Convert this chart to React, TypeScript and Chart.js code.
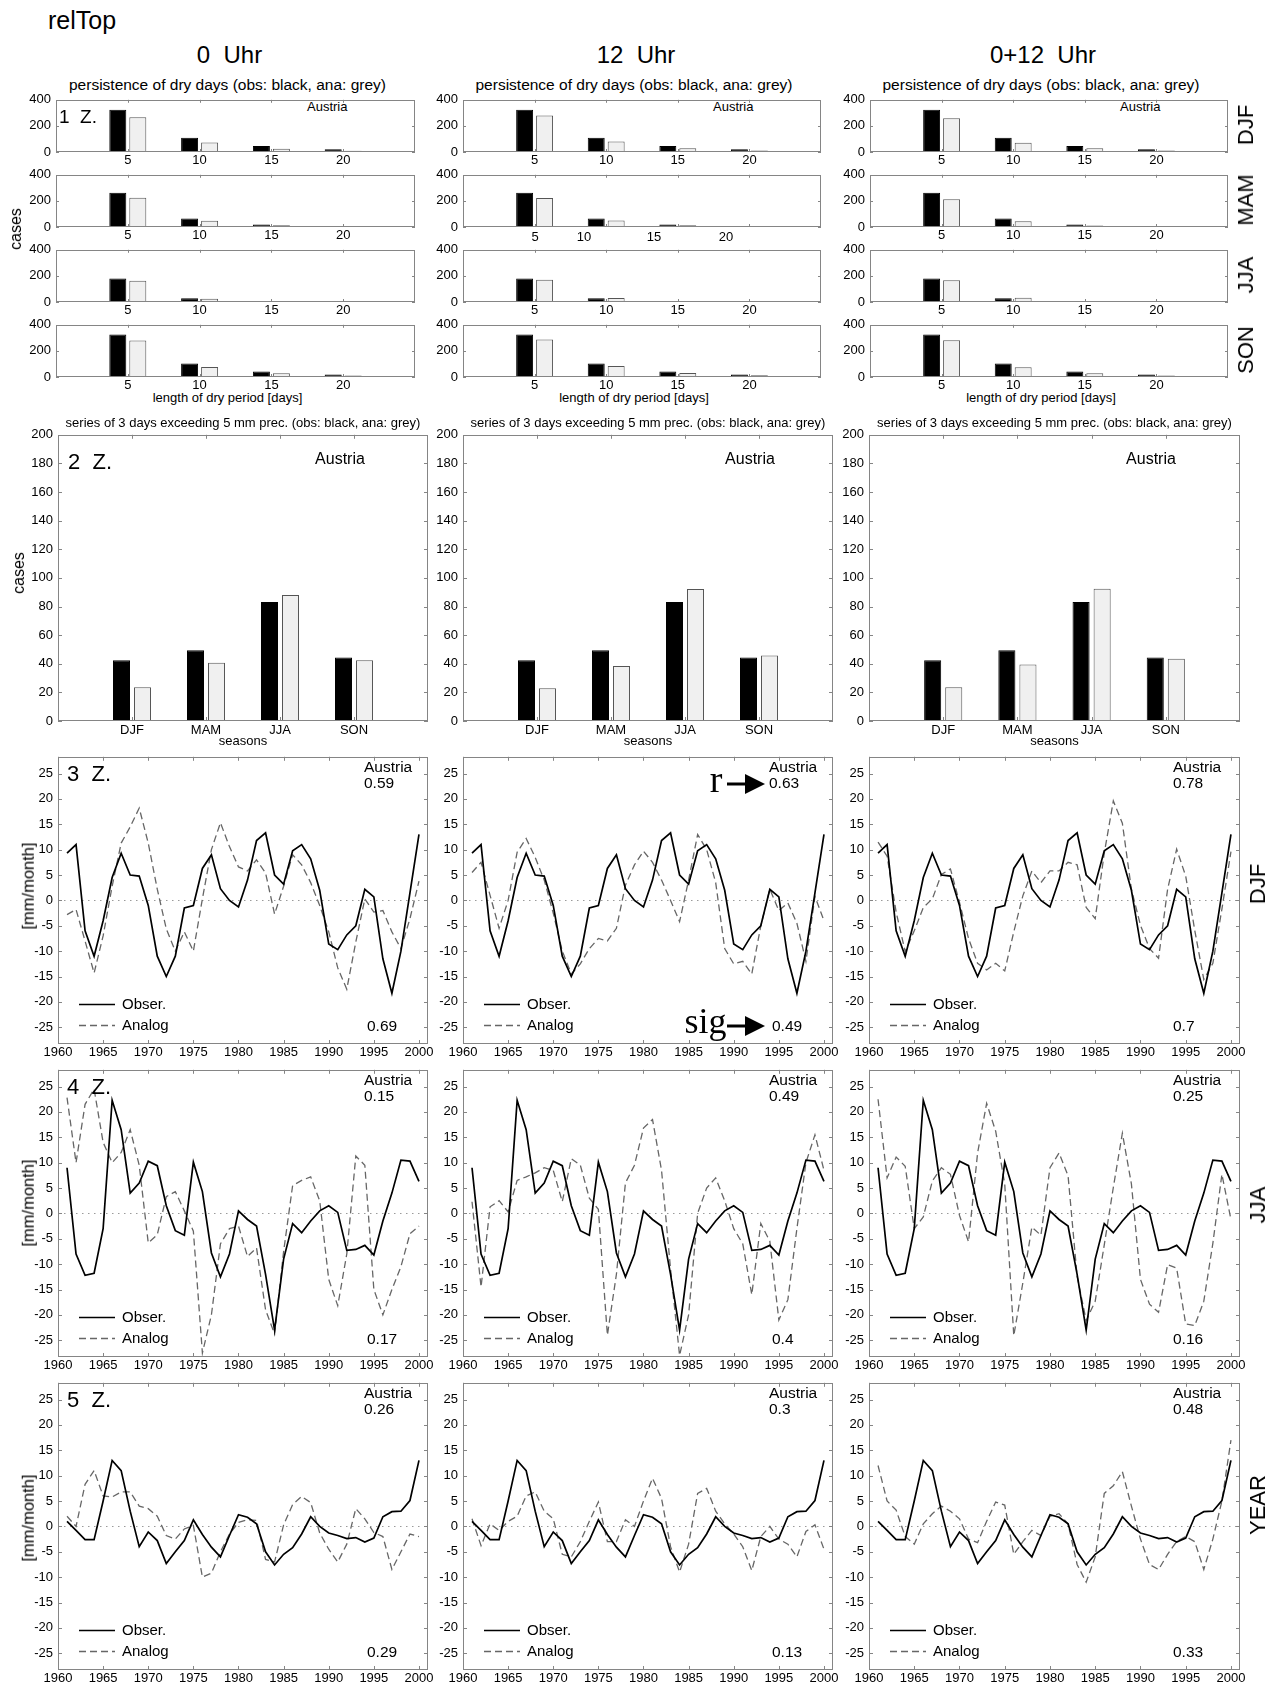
import React, { useEffect, useRef } from 'react';
import { Chart, registerables } from 'chart.js';

Chart.register(...registerables);

const FONT = "'Liberation Sans', Arial, Helvetica, sans-serif";

// ---------- Row 1: persistence of dry days ----------
const DRY_LENGTHS = [5, 10, 15, 20];
const DRY_X_TICKS = [5, 10, 15, 20];
const DRY_Y_TICKS = [0, 200, 400];
const DRY_SEASONS = ['DJF', 'MAM', 'JJA', 'SON'];
const DRY_OBS_DJF = [324, 110, 46, 22];
const DRY_OBS_MAM = [263, 66, 20, 7];
const DRY_OBS_JJA = [181, 29, 6, 2];
const DRY_OBS_SON = [325, 104, 42, 20];
const DRY_ANA_0_DJF = [266, 72, 24, 10];
const DRY_ANA_0_MAM = [224, 48, 14, 6];
const DRY_ANA_0_JJA = [162, 24, 6, 3];
const DRY_ANA_0_SON = [279, 76, 29, 12];
const DRY_ANA_12_DJF = [280, 80, 28, 12];
const DRY_ANA_12_MAM = [222, 50, 14, 5];
const DRY_ANA_12_JJA = [170, 30, 4, 2];
const DRY_ANA_12_SON = [288, 85, 30, 13];
const DRY_ANA_012_DJF = [258, 70, 28, 12];
const DRY_ANA_012_MAM = [212, 45, 12, 5];
const DRY_ANA_012_JJA = [167, 33, 4, 2];
const DRY_ANA_012_SON = [282, 75, 28, 12];
// tick labels of the 12 Uhr MAM panel, which are drawn displaced in the original
const DRY_SHIFTED_LABELS = ['5', '10', '15', '20'];

// ---------- Row 2: series of 3 days exceeding 5 mm ----------
const SEASONS = ['DJF', 'MAM', 'JJA', 'SON'];
const SEASON_POS = [1, 2, 3, 4];
const WET_Y_TICKS = [0, 20, 40, 60, 80, 100, 120, 140, 160, 180, 200];
const WET_OBS = [42.5, 49.5, 83.2, 44.3];
const WET_ANA_0 = [23.5, 40.7, 88, 42.5];
const WET_ANA_12 = [22.9, 38.4, 92.3, 45.7];
const WET_ANA_012 = [23.5, 39.5, 92.5, 43.5];

// ---------- Rows 3-5: anomaly time series ----------
const YEARS = [
  1961, 1962, 1963, 1964, 1965, 1966, 1967, 1968, 1969, 1970,
  1971, 1972, 1973, 1974, 1975, 1976, 1977, 1978, 1979, 1980,
  1981, 1982, 1983, 1984, 1985, 1986, 1987, 1988, 1989, 1990,
  1991, 1992, 1993, 1994, 1995, 1996, 1997, 1998, 1999, 2000,
];
const YEAR_TICKS = [1960, 1965, 1970, 1975, 1980, 1985, 1990, 1995, 2000];
const ANOM_TICKS = [-25, -20, -15, -10, -5, 0, 5, 10, 15, 20, 25];

const OBS_DJF = [9.3, 11, -6, -11, -4, 4.5, 9.3, 5, 4.8, -1, -11, -15, -11, -1.5, -1, 6.3, 9, 2.3, 0, -1.3,
  4, 11.8, 13.3, 5, 3.2, 9.8, 11, 8.2, 2, -8.6, -9.7, -6.8, -5, 2.2, 0.7, -11.5, -18.3, -10, 1.5, 13];
const ANA_DJF_0 = [-2.8, -1.8, -8, -14.3, -7, 2.8, 11.3, 14.5, 18.2, 11.3, 2.2, -5.6, -10, -6.2, -10, 0.3, 10, 15.3, 10.6, 6.6,
  5.8, 8, 5.4, -2.7, 2.8, 9, 7, 3.5, -1, -6.2, -13.3, -17.5, -8.2, 0.3, -2.3, -2, -6.2, -9.5, -3.6, 3.8];
const ANA_DJF_12 = [5.5, 7.5, 1, -5.5, 0, 9.5, 12.2, 8.5, 4, -2.5, -10, -14.5, -12.5, -9.5, -7.5, -8, -5.5, 3, 7, 9.7,
  7.5, 4, 0, -4.2, 4, 13, 10, 3.5, -9.5, -12.5, -12, -14.5, -5, 2.2, -2, -0.5, -4.5, -12, 0.8, -4];
const ANA_DJF_012 = [11.5, 8.7, -2.3, -10.1, -6, -1.4, 0.3, 5.1, 6.2, -0.4, -7.5, -12.4, -13.7, -12.4, -13.9, -6.2, 0.9, 5.8, 3.5, 5.8,
  5.8, 7.5, 7, -1.4, -3.6, 9.3, 19.6, 15.2, 2.2, -4.9, -9.5, -11.4, 2.2, 10.1, 4.8, -5.9, -15.6, -12.4, -1.7, 9.6];

const OBS_JJA = [9, -8, -12.2, -11.8, -3, 22.3, 16.5, 4, 6, 10.3, 9.4, 1.5, -3.4, -4.3, 10.1, 4.3, -7.8, -12.5, -8, 0.5,
  -1.2, -2.5, -12, -23, -9, -2, -3.8, -1.5, 0.5, 1.5, 0.2, -7.3, -7.1, -6.3, -8.2, -1.5, 4, 10.5, 10.3, 6.3];
const ANA_JJA_0 = [22.8, 10, 21.5, 24.5, 14, 10, 12, 16.5, 9.5, -5.8, -4.2, 3.3, 4.3, 0.5, -3.5, -27.5, -20, -6, -3, -2.5,
  -8.5, -6.8, -19, -23.8, -7.5, 5.5, 6.5, 7.2, 2.5, -13, -18.2, -8, 11.3, 9.5, -15, -20, -15, -10.5, -4, -2.5];
const ANA_JJA_12 = [2.3, -14.5, 1.3, 2.5, 0.3, 6.5, 7.2, 8, 9, 8.5, 2.3, 10.8, 9.5, 3, 0.8, -24, -12, 6, 9.5, 16.8,
  18.5, 8.5, -11, -28, -20, 0, 5, 7, 2.5, -3, -6, -16, -2, -5.5, -21, -17, -3, 10, 15.5, 8.5];
const ANA_JJA_012 = [22.5, 7, 11.1, 9.3, -3, -0.7, 6.4, 9, 7.7, -0.4, -5.6, 11.9, 21.7, 16.2, 5.8, -24.1, -13.7, -2.7, -4.3, 9,
  11.9, 7.4, -12.4, -21.1, -17.3, -6.2, 5.1, 15.8, 5.8, -13, -17.9, -19.5, -10.1, -10.8, -21.8, -22.1, -17.3, -5.9, 7.7, -1.2];

const OBS_YEAR = [1, -0.8, -2.6, -2.6, 5, 13, 11, 3, -4, -1.1, -2.8, -7.3, -5, -2.8, 1.3, -1.6, -4.1, -6, -1.8, 2.3,
  1.8, 0.5, -5, -7.6, -5.5, -4.2, -1.5, 1.9, 0, -1.3, -1.8, -2.4, -2.2, -3.1, -2.3, 1.9, 2.9, 3, 5.1, 13];
const ANA_YEAR_0 = [2, 0, 8.3, 11, 6, 5.8, 6.8, 6.8, 4, 3.5, 2, -1.8, -2.5, -0.5, 0.2, -10, -9.2, -5, -1.5, 0.8,
  1.3, 1.2, -6.5, -7, 0.3, 4.3, 5.9, 4.7, -1.3, -4.5, -7, -3.5, 3.5, 1.5, -1.2, -2, -8.5, -5, -1.5, -2];
const ANA_YEAR_12 = [1.5, -3.8, 0.5, -0.8, 1, 2, 6, 6.8, 3, 1.5, -5.5, -6, -3, 1, 4.8, -3, -3, 1.3, 0, 5,
  9.5, 5.5, -4, -9, -3.5, 6.5, 7.5, 3, 0.5, -1.5, -4, -8.7, -2, 0, -2.5, -3.5, -6, -1, 0.3, -4.5];
const ANA_YEAR_012 = [12, 5, 3.2, -2, -3.5, 0.5, 2.5, 4, 3, 1.5, -2.5, -3.2, 1, 4.8, 4.2, -5.5, -3, -0.8, -1.8, 2,
  2.5, 0.5, -7.5, -11, -6, 6.5, 8, 10.8, 4, -2.5, -7.5, -8.5, -5.5, -3, -2, -3, -8.5, -2.5, 5, 17];

const R_DJF = ['0.59', '0.63', '0.78'];
const SIG_DJF = ['0.69', '0.49', '0.7'];
const R_JJA = ['0.15', '0.49', '0.25'];
const SIG_JJA = ['0.17', '0.4', '0.16'];
const R_YEAR = ['0.26', '0.3', '0.48'];
const SIG_YEAR = ['0.29', '0.13', '0.33'];

const COLUMN_TITLES = ['0  Uhr', '12  Uhr', '0+12  Uhr'];
const LEGEND_LABELS = ['Obser.', 'Analog'];

// ---------- layout (page pixels) ----------
const SMALL_COLS = [{ l: 56, r: 415 }, { l: 463, r: 821 }, { l: 870, r: 1228 }];
const WIDE_COLS = [{ l: 58, r: 428 }, { l: 463, r: 833 }, { l: 869, r: 1240 }];
const SMALL_TOPS = [96, 171, 246, 321];
const SMALL_H = 56;
const WET_TOP = 432;
const WET_H = 289;
const LINE_TOPS = [752, 1065, 1378];
const LINE_H = 292;
const SHIFTED_LABEL_X = [535, 584, 654, 726];

const TICK_FONT = { family: FONT, size: 13 };

const fixedTicks = (values: number[]) => (scale: any) => {
  scale.ticks = values.map((v) => ({ value: v }));
};

const matlabAxes = {
  id: 'matlabAxes',
  afterDatasetsDraw(chart: any, _args: any, opts: any) {
    const { ctx, chartArea: a } = chart;
    const xs = chart.scales.x;
    const ys = chart.scales.y;
    const tl = opts.tick ?? 4;
    ctx.save();
    ctx.strokeStyle = '#858585';
    ctx.lineWidth = 1;
    ctx.setLineDash([]);
    ctx.beginPath();
    for (const t of xs.ticks) {
      const p = Math.round(xs.getPixelForValue(t.value)) + 0.5;
      ctx.moveTo(p, a.bottom);
      ctx.lineTo(p, a.bottom - tl);
      ctx.moveTo(p, a.top);
      ctx.lineTo(p, a.top + tl);
    }
    for (const t of ys.ticks) {
      const p = Math.round(ys.getPixelForValue(t.value)) + 0.5;
      ctx.moveTo(a.left, p);
      ctx.lineTo(a.left + tl, p);
      ctx.moveTo(a.right, p);
      ctx.lineTo(a.right - tl, p);
    }
    ctx.stroke();
    ctx.strokeRect(Math.round(a.left) + 0.5, Math.round(a.top) + 0.5, Math.round(a.width) - 1, Math.round(a.height) - 1);
    ctx.restore();
  },
};

const anomDecor = {
  id: 'anomDecor',
  beforeDatasetsDraw(chart: any) {
    const { ctx, chartArea: a } = chart;
    const y = Math.round(chart.scales.y.getPixelForValue(0)) + 0.5;
    ctx.save();
    ctx.strokeStyle = '#9a9a9a';
    ctx.lineWidth = 1;
    ctx.setLineDash([1.5, 4.5]);
    ctx.beginPath();
    ctx.moveTo(a.left, y);
    ctx.lineTo(a.right, y);
    ctx.stroke();
    ctx.restore();
  },
  afterDatasetsDraw(chart: any) {
    const { ctx, chartArea: a } = chart;
    const rows = [40, 19];
    chart.data.datasets.forEach((ds: any, i: number) => {
      const y = Math.round(a.bottom - rows[i]) + 0.5;
      ctx.save();
      ctx.strokeStyle = ds.borderColor;
      ctx.lineWidth = ds.borderWidth;
      ctx.setLineDash(ds.borderDash || []);
      ctx.beginPath();
      ctx.moveTo(a.left + 21, y);
      ctx.lineTo(a.left + 57, y);
      ctx.stroke();
      ctx.restore();
    });
  },
};

type Pad = { l: number; t: number; r: number; b: number };

const baseOptions = (pad: Pad, tick: number) => ({
  animation: false,
  responsive: false,
  maintainAspectRatio: false,
  devicePixelRatio: 1,
  events: [],
  layout: { padding: { left: 0, top: pad.t, right: pad.r, bottom: 0 } },
  plugins: { legend: { display: false }, tooltip: { enabled: false }, matlabAxes: { tick } },
});

const axisX = (pad: Pad, min: number, max: number, ticks: number[], cb: (v: number) => string, padding: number, show = true) => ({
  type: 'linear',
  min,
  max,
  offset: false,
  grid: { display: false, drawTicks: false },
  border: { display: false },
  afterBuildTicks: fixedTicks(ticks),
  afterFit: (s: any) => { s.height = pad.b; },
  ticks: { display: show, font: TICK_FONT, color: '#000', padding, autoSkip: false, maxRotation: 0, callback: cb },
});

const axisY = (pad: Pad, min: number, max: number, ticks: number[]) => ({
  type: 'linear',
  min,
  max,
  grid: { display: false, drawTicks: false },
  border: { display: false },
  afterBuildTicks: fixedTicks(ticks),
  afterFit: (s: any) => { s.width = pad.l; },
  ticks: { font: TICK_FONT, color: '#000', padding: 5, autoSkip: false, callback: (v: number) => String(v) },
});

const makeDry = (obs: number[], ana: number[], showX = true) => (pad: Pad) => ({
  type: 'bar',
  data: {
    datasets: [
      { data: DRY_LENGTHS.map((x, i) => ({ x, y: obs[i] })), backgroundColor: '#000', borderColor: '#000', borderWidth: 1, categoryPercentage: 0.557, barPercentage: 0.85 },
      { data: DRY_LENGTHS.map((x, i) => ({ x, y: ana[i] })), backgroundColor: '#f0f0f0', borderColor: '#555', borderWidth: 1, categoryPercentage: 0.557, barPercentage: 0.85 },
    ],
  },
  options: {
    ...baseOptions(pad, 3),
    scales: {
      x: axisX(pad, 0, 25, DRY_X_TICKS, (v) => String(v), 1, showX),
      y: axisY(pad, 0, 400, DRY_Y_TICKS),
    },
  },
  plugins: [matlabAxes],
});

const makeWet = (obs: number[], ana: number[]) => (pad: Pad) => ({
  type: 'bar',
  data: {
    datasets: [
      { data: SEASON_POS.map((x, i) => ({ x, y: obs[i] })), backgroundColor: '#000', borderColor: '#000', borderWidth: 1, categoryPercentage: 0.568, barPercentage: 0.81 },
      { data: SEASON_POS.map((x, i) => ({ x, y: ana[i] })), backgroundColor: '#f0f0f0', borderColor: '#555', borderWidth: 1, categoryPercentage: 0.568, barPercentage: 0.81 },
    ],
  },
  options: {
    ...baseOptions(pad, 4),
    scales: {
      x: axisX(pad, 0, 5, SEASON_POS, (v) => SEASONS[SEASON_POS.indexOf(v)] ?? '', 2),
      y: axisY(pad, 0, 200, WET_Y_TICKS),
    },
  },
  plugins: [matlabAxes],
});

const makeLine = (obs: number[], ana: number[]) => (pad: Pad) => ({
  type: 'line',
  data: {
    datasets: [
      { label: LEGEND_LABELS[0], data: YEARS.map((x, i) => ({ x, y: obs[i] })), borderColor: '#000', borderWidth: 1.7, pointRadius: 0, tension: 0, fill: false },
      { label: LEGEND_LABELS[1], data: YEARS.map((x, i) => ({ x, y: ana[i] })), borderColor: '#666', borderWidth: 1.3, borderDash: [7, 4], pointRadius: 0, tension: 0, fill: false },
    ],
  },
  options: {
    ...baseOptions(pad, 4),
    scales: {
      x: axisX(pad, 1960, 2001, YEAR_TICKS, (v) => String(v), 1),
      y: axisY(pad, -28.3, 28.3, ANOM_TICKS),
    },
  },
  plugins: [anomDecor, matlabAxes],
});

function ChartBox({ l, t, w, h, pad, make }: { l: number; t: number; w: number; h: number; pad: Pad; make: (p: Pad) => any }) {
  const ref = useRef<HTMLCanvasElement>(null);
  const W = w + pad.l + pad.r;
  const H = h + pad.t + pad.b;
  useEffect(() => {
    const chart = new Chart(ref.current as HTMLCanvasElement, make(pad));
    return () => chart.destroy();
  }, []);
  return (
    <canvas
      ref={ref}
      width={W}
      height={H}
      style={{ position: 'absolute', left: l - pad.l, top: t - pad.t, width: W, height: H }}
    />
  );
}

function Txt({ x, y, size, children, align = 'left', rotate = false, family = FONT }: any) {
  const style: any = {
    position: 'absolute',
    left: x,
    top: y,
    fontFamily: family,
    fontSize: size,
    lineHeight: `${size}px`,
    whiteSpace: 'pre',
    color: '#000',
  };
  if (rotate) style.transform = 'translate(-50%, -50%) rotate(-90deg)';
  else if (align === 'center') style.transform = 'translate(-50%, -50%)';
  else style.transform = 'translateY(-50%)';
  return <div style={style}>{children}</div>;
}

function Arrow({ x, y, len }: { x: number; y: number; len: number }) {
  return (
    <svg width={len} height={22} style={{ position: 'absolute', left: x, top: y - 11 }}>
      <line x1={0} y1={11} x2={len - 18} y2={11} stroke="#000" strokeWidth={3} />
      <polygon points={`${len - 20},1 ${len},11 ${len - 20},21`} fill="#000" />
    </svg>
  );
}

const DRY_DATA = [
  [[DRY_OBS_DJF, DRY_ANA_0_DJF], [DRY_OBS_MAM, DRY_ANA_0_MAM], [DRY_OBS_JJA, DRY_ANA_0_JJA], [DRY_OBS_SON, DRY_ANA_0_SON]],
  [[DRY_OBS_DJF, DRY_ANA_12_DJF], [DRY_OBS_MAM, DRY_ANA_12_MAM], [DRY_OBS_JJA, DRY_ANA_12_JJA], [DRY_OBS_SON, DRY_ANA_12_SON]],
  [[DRY_OBS_DJF, DRY_ANA_012_DJF], [DRY_OBS_MAM, DRY_ANA_012_MAM], [DRY_OBS_JJA, DRY_ANA_012_JJA], [DRY_OBS_SON, DRY_ANA_012_SON]],
];
const WET_DATA = [WET_ANA_0, WET_ANA_12, WET_ANA_012];
const LINE_ROWS = [
  { obs: OBS_DJF, ana: [ANA_DJF_0, ANA_DJF_12, ANA_DJF_012], r: R_DJF, sig: SIG_DJF, name: 'DJF', z: '3  Z.', nameY: 884, ylabY: 886 },
  { obs: OBS_JJA, ana: [ANA_JJA_0, ANA_JJA_12, ANA_JJA_012], r: R_JJA, sig: SIG_JJA, name: 'JJA', z: '4  Z.', nameY: 1205, ylabY: 1203 },
  { obs: OBS_YEAR, ana: [ANA_YEAR_0, ANA_YEAR_12, ANA_YEAR_012], r: R_YEAR, sig: SIG_YEAR, name: 'YEAR', z: '5  Z.', nameY: 1505, ylabY: 1518 },
];

export default function App() {
  const smallPad = { l: 50, t: 9, r: 8, b: 18 };
  const wetPad = { l: 50, t: 10, r: 10, b: 20 };
  const linePad = { l: 50, t: 8, r: 14, b: 20 };
  const nodes: any[] = [];

  // header
  nodes.push(<Txt key="title" x={48} y={20} size={25}>relTop</Txt>);

  SMALL_COLS.forEach((c, ci) => {
    const center = (c.l + c.r) / 2;
    nodes.push(<Txt key={`ct${ci}`} x={center - 6} y={55} size={24} align="center">{COLUMN_TITLES[ci]}</Txt>);
    nodes.push(<Txt key={`st${ci}`} x={center - 8} y={85} size={15.5} align="center">persistence of dry days (obs: black, ana: grey)</Txt>);
    nodes.push(<Txt key={`xl${ci}`} x={center - 8} y={397} size={13} align="center">length of dry period [days]</Txt>);
    nodes.push(<Txt key={`au${ci}`} x={c.r - 108} y={106} size={13}>Austria</Txt>);
    SMALL_TOPS.forEach((t, ri) => {
      const shifted = ci === 1 && ri === 1;
      nodes.push(
        <ChartBox key={`dry${ci}${ri}`} l={c.l} t={t} w={c.r - c.l} h={SMALL_H} pad={smallPad}
          make={makeDry(DRY_DATA[ci][ri][0], DRY_DATA[ci][ri][1], !shifted)} />
      );
      if (shifted) {
        DRY_SHIFTED_LABELS.forEach((lab, k) => {
          nodes.push(<Txt key={`shl${k}`} x={SHIFTED_LABEL_X[k]} y={t + SMALL_H + 9} size={13} align="center">{lab}</Txt>);
        });
      }
      if (ci === 2) {
        nodes.push(<Txt key={`sn${ri}`} x={1246} y={t + SMALL_H / 2 + 1} size={22} rotate>{DRY_SEASONS[ri]}</Txt>);
      }
    });
  });
  nodes.push(<Txt key="z1" x={59} y={115.5} size={19}>{'1  Z.'}</Txt>);
  nodes.push(<Txt key="cases1" x={15.5} y={229} size={16} rotate>cases</Txt>);

  // row 2
  const wetAustriaX = [282, 287, 282];
  WIDE_COLS.forEach((c, ci) => {
    const center = (c.l + c.r) / 2;
    nodes.push(<Txt key={`wst${ci}`} x={center} y={421.5} size={13} align="center">series of 3 days exceeding 5 mm prec. (obs: black, ana: grey)</Txt>);
    nodes.push(
      <ChartBox key={`wet${ci}`} l={c.l} t={WET_TOP} w={c.r - c.l} h={WET_H} pad={wetPad}
        make={makeWet(WET_OBS, WET_DATA[ci])} />
    );
    nodes.push(<Txt key={`wau${ci}`} x={c.l + wetAustriaX[ci]} y={459} size={16} align="center">Austria</Txt>);
    nodes.push(<Txt key={`wxl${ci}`} x={center} y={740} size={13} align="center">seasons</Txt>);
  });
  nodes.push(<Txt key="z2" x={68} y={462} size={22}>{'2  Z.'}</Txt>);
  nodes.push(<Txt key="cases2" x={19} y={573} size={16} rotate>cases</Txt>);

  // rows 3-5
  LINE_ROWS.forEach((row, ri) => {
    const t = LINE_TOPS[ri];
    const b = t + LINE_H;
    WIDE_COLS.forEach((c, ci) => {
      nodes.push(
        <ChartBox key={`ln${ri}${ci}`} l={c.l} t={t} w={c.r - c.l} h={LINE_H} pad={linePad}
          make={makeLine(row.obs, row.ana[ci])} />
      );
      const ax = ci === 2 ? c.r - 67 : c.r - 64;
      const sx = ci === 2 ? c.r - 67 : c.r - 61;
      nodes.push(<Txt key={`la${ri}${ci}`} x={ax} y={t + 15} size={15.5}>Austria</Txt>);
      nodes.push(<Txt key={`lr${ri}${ci}`} x={ax} y={t + 31} size={15.5}>{row.r[ci]}</Txt>);
      nodes.push(<Txt key={`ls${ri}${ci}`} x={sx} y={b - 18} size={15.5}>{row.sig[ci]}</Txt>);
      nodes.push(<Txt key={`lg1${ri}${ci}`} x={c.l + 64} y={b - 41} size={15}>{LEGEND_LABELS[0]}</Txt>);
      nodes.push(<Txt key={`lg2${ri}${ci}`} x={c.l + 64} y={b - 20} size={15}>{LEGEND_LABELS[1]}</Txt>);
    });
    nodes.push(<Txt key={`lz${ri}`} x={67} y={t + 22} size={22}>{row.z}</Txt>);
    nodes.push(<Txt key={`ly${ri}`} x={27.5} y={row.ylabY} size={16.5} rotate>[mm/month]</Txt>);
    nodes.push(<Txt key={`lname${ri}`} x={1258} y={row.nameY} size={22} rotate>{row.name}</Txt>);
  });

  // explanatory annotations in the 12 Uhr DJF panel
  nodes.push(<Txt key="rlab" x={716} y={779} size={38} align="center" family="'Liberation Serif', 'Times New Roman', serif">r</Txt>);
  nodes.push(<Arrow key="rarr" x={727} y={784} len={38} />);
  nodes.push(<Txt key="siglab" x={705.5} y={1021} size={36} align="center" family="'Liberation Serif', 'Times New Roman', serif">sig</Txt>);
  nodes.push(<Arrow key="sarr" x={727} y={1026} len={38} />);

  return (
    <div style={{ position: 'absolute', left: 0, top: 0, width: 1277, height: 1687, background: '#fff', overflow: 'hidden' }}>
      {nodes}
    </div>
  );
}
